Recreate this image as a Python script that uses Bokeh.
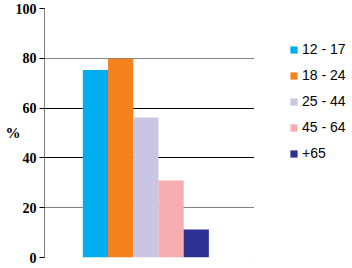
from bokeh.plotting import figure
from bokeh.layouts import row
from bokeh.models import ColumnDataSource, Range1d, FixedTicker, Grid, Legend, LegendItem
from bokeh.embed import file_html
from bokeh.resources import INLINE

groups = ["12 - 17", "18 - 24", "25 - 44", "45 - 64", "+65"]
values = [75.3, 79.8, 56.2, 30.9, 11.2]
colors = ["#00AEEF", "#F5821F", "#C8C6E2", "#F8AEB0", "#2E3192"]
y_ticks = [0, 20, 40, 60, 80, 100]
solid_grid = [40, 60]
dotted_grid = [0, 20, 80, 100]

src = ColumnDataSource(dict(x=list(range(len(groups))), top=values, color=colors, group=groups))

p = figure(width=254, height=268, output_backend="svg", toolbar_location=None,
           x_range=Range1d(-2.02, 6.31), y_range=Range1d(0, 100),
           x_axis_location=None,
           min_border_left=44, min_border_right=0, min_border_top=8, min_border_bottom=11)
p.outline_line_color = None
p.xgrid.visible = False
p.ygrid.visible = False

for ticks, dash in ((solid_grid, "solid"), (dotted_grid, "1 1")):
    g = Grid(dimension=1, ticker=FixedTicker(ticks=ticks), grid_line_color="black",
             grid_line_width=1, grid_line_dash=dash)
    p.add_layout(g)

p.vbar(x="x", top="top", width=1.0, bottom=0, color="color", line_color=None, source=src)

ax = p.yaxis[0]
ax.ticker = FixedTicker(ticks=y_ticks)
ax.major_label_text_font = "Liberation Serif"
ax.major_label_text_font_style = "bold"
ax.major_label_text_font_size = "14px"
ax.major_label_text_color = "black"
ax.major_tick_in = 0
ax.major_tick_out = 5
ax.minor_tick_line_color = None
ax.major_tick_line_color = "black"
ax.axis_line_color = "black"
ax.axis_line_dash = "1 1"
ax.major_label_standoff = 3
ax.axis_label = "%"
ax.axis_label_orientation = "horizontal"
ax.axis_label_text_font = "Liberation Serif"
ax.axis_label_text_font_style = "bold"
ax.axis_label_text_font_size = "15px"
ax.axis_label_text_color = "black"
ax.axis_label_standoff = -8

# legend panel
p2 = figure(width=98, height=268, output_backend="svg", toolbar_location=None,
            x_range=Range1d(1000, 1001), y_range=Range1d(1000, 1001),
            x_axis_location=None, y_axis_location=None,
            min_border=0)
p2.outline_line_color = None
p2.grid.visible = False
r2 = p2.vbar(x="x", top="top", width=1.0, bottom=0, color="color", line_color=None, source=src)

items = [LegendItem(label=g, renderers=[r2], index=i) for i, g in enumerate(groups)]
leg = Legend(items=items, location=(35, 96), orientation="vertical",
             glyph_width=9, glyph_height=9, label_height=15, spacing=10,
             label_standoff=4, padding=0, margin=0, border_line_color=None,
             background_fill_alpha=0,
             label_text_font="Liberation Sans", label_text_font_size="14px",
             label_text_color="black")
p2.add_layout(leg, "center")

layout = row(p, p2, spacing=0)
open("out.html", "w").write(file_html(layout, INLINE))
